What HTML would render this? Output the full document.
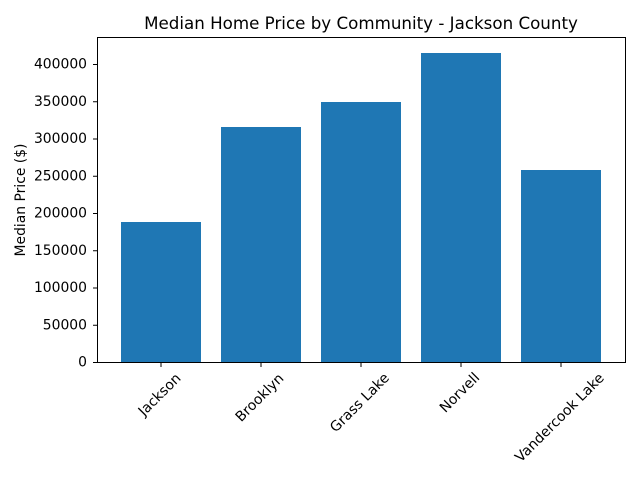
<!DOCTYPE html>
<html><head><meta charset="utf-8"><style>body{margin:0;background:#fff}svg{display:block}</style></head><body>
<svg width="640" height="480" xmlns="http://www.w3.org/2000/svg" font-family="DejaVu Sans, Liberation Sans, sans-serif">
<rect width="640" height="480" fill="#fff"/>
<text x="361" y="29" font-size="16.7" text-anchor="middle" fill="#000">Median Home Price by Community - Jackson County</text>
<g fill="#1f77b4">
<rect x="121" y="222" width="80" height="140"/>
<rect x="221" y="127" width="80" height="235"/>
<rect x="321" y="102" width="80" height="260"/>
<rect x="421" y="53" width="80" height="309"/>
<rect x="521" y="170" width="80" height="192"/>
</g>
<rect x="97.5" y="37.5" width="528" height="325" fill="none" stroke="#000" stroke-width="1"/>
<g stroke="#000" stroke-width="1">
<line x1="93" x2="97" y1="362.5" y2="362.5"/>
<line x1="93" x2="97" y1="325.25" y2="325.25"/>
<line x1="93" x2="97" y1="288" y2="288"/>
<line x1="93" x2="97" y1="250.75" y2="250.75"/>
<line x1="93" x2="97" y1="213.5" y2="213.5"/>
<line x1="93" x2="97" y1="176.25" y2="176.25"/>
<line x1="93" x2="97" y1="139" y2="139"/>
<line x1="93" x2="97" y1="101.75" y2="101.75"/>
<line x1="93" x2="97" y1="64.5" y2="64.5"/>
<line x1="161" x2="161" y1="363" y2="367"/>
<line x1="261" x2="261" y1="363" y2="367"/>
<line x1="361" x2="361" y1="363" y2="367"/>
<line x1="461" x2="461" y1="363" y2="367"/>
<line x1="561" x2="561" y1="363" y2="367"/>
</g>
<g font-size="13.9" text-anchor="end" fill="#000" dominant-baseline="central">
<text x="87" y="362.5">0</text>
<text x="87" y="325.25">50000</text>
<text x="87" y="288">100000</text>
<text x="87" y="250.75">150000</text>
<text x="87" y="213.5">200000</text>
<text x="87" y="176.25">250000</text>
<text x="87" y="139">300000</text>
<text x="87" y="101.75">350000</text>
<text x="87" y="64.5">400000</text>
</g>
<text transform="translate(21,200) rotate(-90)" font-size="13.9" text-anchor="middle" dominant-baseline="central">Median Price ($)</text>
<g font-size="14" text-anchor="middle" dominant-baseline="central">
<text transform="translate(160,395) rotate(-45)">Jackson</text>
<text transform="translate(260,398) rotate(-45)">Brooklyn</text>
<text transform="translate(360,403) rotate(-45)">Grass Lake</text>
<text transform="translate(460,393) rotate(-45)">Norvell</text>
<text transform="translate(560,418) rotate(-45)">Vandercook Lake</text>
</g>
</svg>
</body></html>
